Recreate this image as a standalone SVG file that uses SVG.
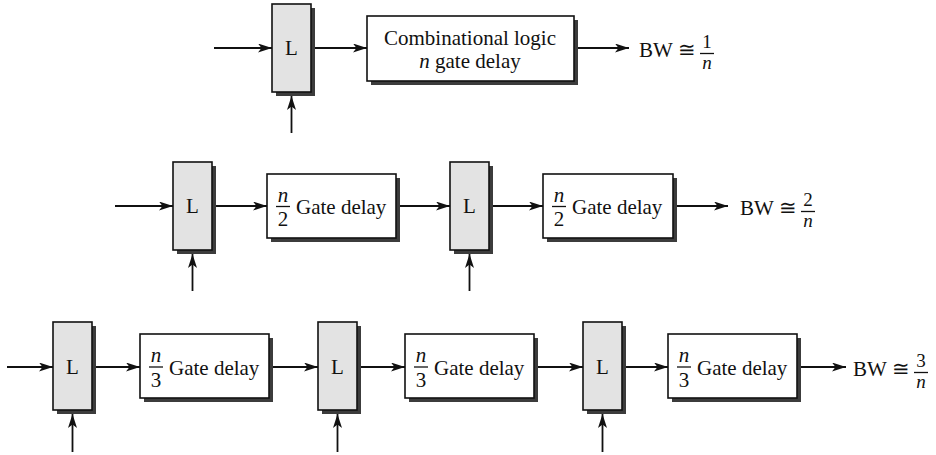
<svg xmlns="http://www.w3.org/2000/svg" width="936" height="455" viewBox="0 0 936 455">
<defs>
<marker id="ah" markerUnits="userSpaceOnUse" markerWidth="15" markerHeight="10" refX="14" refY="4.5" orient="auto">
<path d="M0,0 L14,4.5 L0,9 L3.5,4.5 Z" fill="#111"/>
</marker>
<style>
.latch{fill:#e3e3e3;stroke:#111;stroke-width:1.6}
.box{fill:#fff;stroke:#111;stroke-width:1.6}
.sh{fill:#3c3c3c}
.t{font-family:"Liberation Serif","Times New Roman",serif;font-size:21px;fill:#111}
.f{font-size:19px}
.i{font-style:italic}
.m{text-anchor:middle}
.fl{stroke:#111;stroke-width:1.3}
.c line{stroke:#111;stroke-width:1.8;marker-end:url(#ah)}
</style>
</defs>
<rect width="936" height="455" fill="#fff"/>

<!-- Row 1 -->
<g id="r1-latch"><rect class="sh" x="276" y="8" width="39" height="88"/><rect class="latch" x="272" y="4" width="39" height="88"/><text class="t m" x="291.5" y="55">L</text></g>
<g id="r1-logic"><rect class="sh" x="371" y="20" width="207" height="65"/><rect class="box" x="367" y="16" width="207" height="65"/><text class="t m" x="470" y="45">Combinational logic</text><text class="t m" x="470" y="68"><tspan class="i">n</tspan> gate delay</text></g>
<g id="r1-bw"><text class="t" x="639" y="57">BW ≅</text><text class="t f m" x="707" y="48">1</text><line class="fl" x1="700" y1="53.5" x2="714" y2="53.5"/><text class="t f m i" x="707" y="69">n</text></g>

<!-- Row 2 -->
<g id="r2-latch1"><rect class="sh" x="177" y="166" width="39" height="88"/><rect class="latch" x="173" y="162" width="39" height="88"/><text class="t m" x="192.5" y="213">L</text></g>
<g id="r2-gate1"><rect class="sh" x="271" y="178" width="129" height="64"/><rect class="box" x="267" y="174" width="129" height="64"/><text class="t m i" x="283" y="202">n</text><line class="fl" x1="276" y1="206.5" x2="290" y2="206.5"/><text class="t m" x="283" y="226">2</text><text class="t" x="296" y="214">Gate delay</text></g>
<g id="r2-latch2"><rect class="sh" x="454" y="166" width="39" height="88"/><rect class="latch" x="450" y="162" width="39" height="88"/><text class="t m" x="469.5" y="213">L</text></g>
<g id="r2-gate2"><rect class="sh" x="547" y="178" width="130" height="64"/><rect class="box" x="543" y="174" width="130" height="64"/><text class="t m i" x="559" y="202">n</text><line class="fl" x1="552" y1="206.5" x2="566" y2="206.5"/><text class="t m" x="559" y="226">2</text><text class="t" x="572" y="214">Gate delay</text></g>
<g id="r2-bw"><text class="t" x="740" y="215">BW ≅</text><text class="t f m" x="808" y="206">2</text><line class="fl" x1="801" y1="211.5" x2="815" y2="211.5"/><text class="t f m i" x="808" y="227">n</text></g>

<!-- Row 3 -->
<g id="r3-latch1"><rect class="sh" x="57" y="326" width="39" height="88"/><rect class="latch" x="53" y="322" width="39" height="88"/><text class="t m" x="72.5" y="374">L</text></g>
<g id="r3-gate1"><rect class="sh" x="144" y="338" width="129" height="64"/><rect class="box" x="140" y="334" width="129" height="64"/><text class="t m i" x="156" y="362">n</text><line class="fl" x1="149" y1="367" x2="163" y2="367"/><text class="t m" x="156" y="387">3</text><text class="t" x="169" y="375">Gate delay</text></g>
<g id="r3-latch2"><rect class="sh" x="322" y="326" width="39" height="88"/><rect class="latch" x="318" y="322" width="39" height="88"/><text class="t m" x="337.5" y="374">L</text></g>
<g id="r3-gate2"><rect class="sh" x="409" y="338" width="129" height="64"/><rect class="box" x="405" y="334" width="129" height="64"/><text class="t m i" x="421" y="362">n</text><line class="fl" x1="414" y1="367" x2="428" y2="367"/><text class="t m" x="421" y="387">3</text><text class="t" x="434" y="375">Gate delay</text></g>
<g id="r3-latch3"><rect class="sh" x="587" y="326" width="39" height="88"/><rect class="latch" x="583" y="322" width="39" height="88"/><text class="t m" x="602.5" y="374">L</text></g>
<g id="r3-gate3"><rect class="sh" x="672" y="338" width="129" height="64"/><rect class="box" x="668" y="334" width="129" height="64"/><text class="t m i" x="684" y="362">n</text><line class="fl" x1="677" y1="367" x2="691" y2="367"/><text class="t m" x="684" y="387">3</text><text class="t" x="697" y="375">Gate delay</text></g>
<g id="r3-bw"><text class="t" x="853" y="376">BW ≅</text><text class="t f m" x="921" y="367">3</text><line class="fl" x1="914" y1="372.5" x2="928" y2="372.5"/><text class="t f m i" x="921" y="388">n</text></g>

<g id="connectors" class="c">
<line x1="214" y1="48" x2="272" y2="48"/>
<line x1="315" y1="48" x2="367" y2="48"/>
<line x1="578" y1="48" x2="629" y2="48"/>
<line x1="291.5" y1="133" x2="291.5" y2="96"/>

<line x1="115" y1="206" x2="173" y2="206"/>
<line x1="216" y1="206" x2="267" y2="206"/>
<line x1="400" y1="206" x2="450" y2="206"/>
<line x1="493" y1="206" x2="543" y2="206"/>
<line x1="677" y1="206" x2="728" y2="206"/>
<line x1="192.5" y1="291" x2="192.5" y2="254"/>
<line x1="469.5" y1="291" x2="469.5" y2="254"/>

<line x1="7" y1="367" x2="53" y2="367"/>
<line x1="96" y1="367" x2="140" y2="367"/>
<line x1="273" y1="367" x2="318" y2="367"/>
<line x1="361" y1="367" x2="405" y2="367"/>
<line x1="538" y1="367" x2="583" y2="367"/>
<line x1="626" y1="367" x2="668" y2="367"/>
<line x1="801" y1="367" x2="846" y2="367"/>
<line x1="72.5" y1="452" x2="72.5" y2="414"/>
<line x1="337.5" y1="452" x2="337.5" y2="414"/>
<line x1="602.5" y1="452" x2="602.5" y2="414"/>
</g>
</svg>
